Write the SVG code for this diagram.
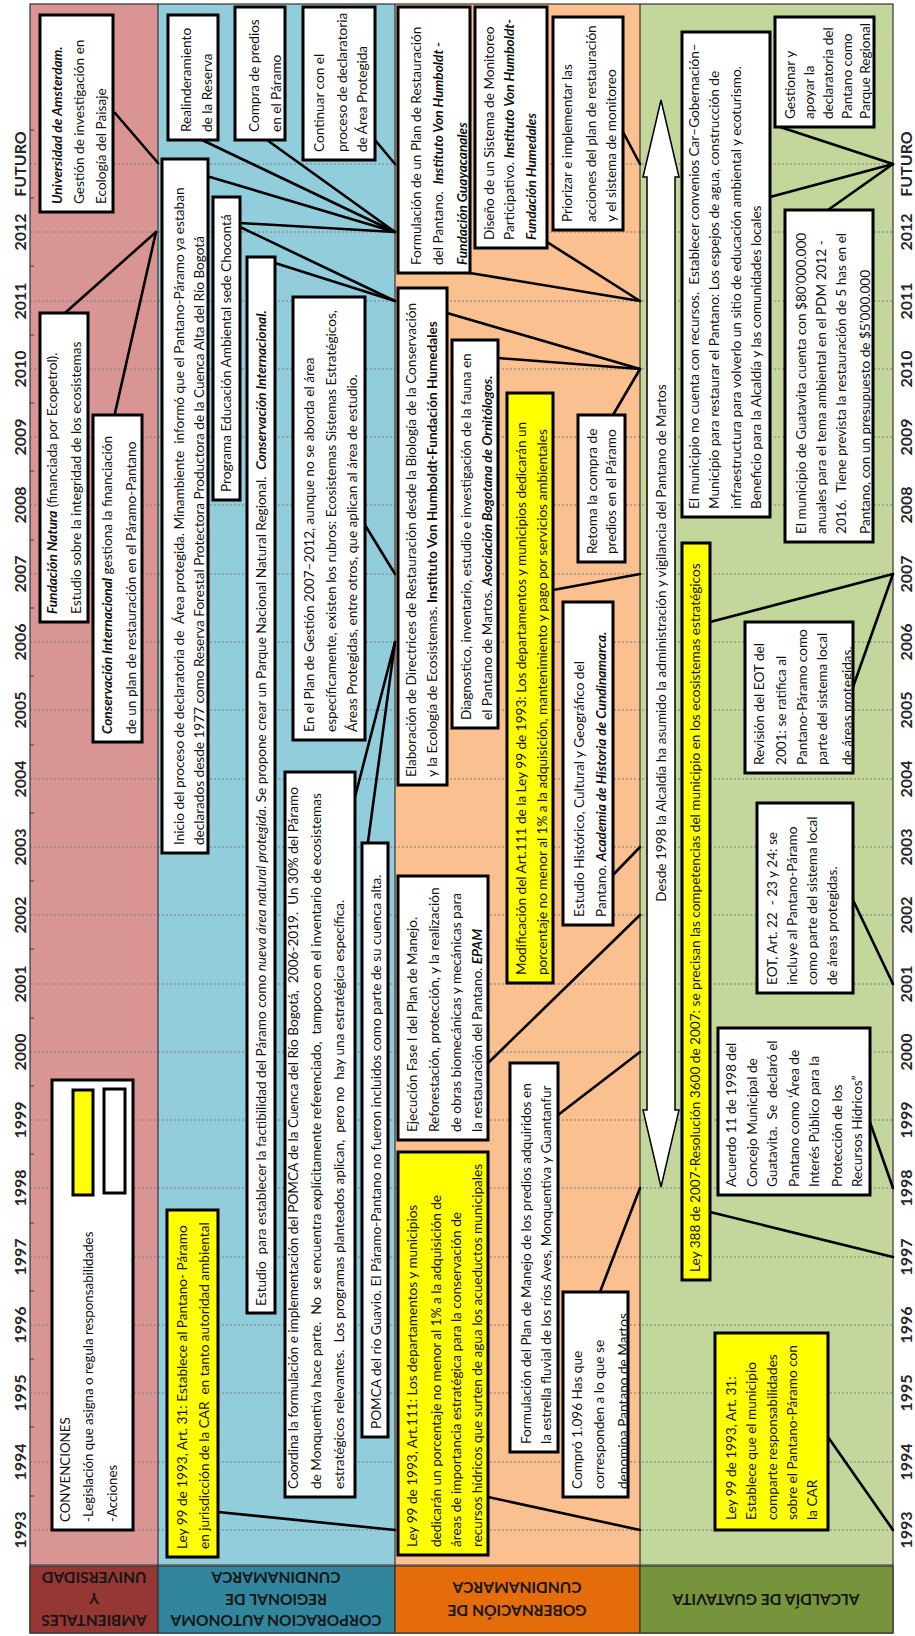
<svg xmlns="http://www.w3.org/2000/svg" width="915" height="1636" viewBox="0 0 915 1636">
<style>
.box{fill:#fff;stroke:#000;stroke-width:3}
.yel{fill:#ffff00;stroke:#000;stroke-width:3}
.t{font-family:Lato,"Liberation Sans",sans-serif;font-size:13.6px;fill:#111;white-space:pre}
.bi{font-weight:bold;font-style:italic}
.b{font-weight:bold}
.i{font-style:italic}
.yr{font-family:Lato,"Liberation Sans",sans-serif;font-weight:bold;font-size:16px;fill:#262626;text-anchor:middle}
.conn line{stroke:#000;stroke-width:2.6;stroke-linecap:round}
.grid line{stroke:#808080;stroke-width:1;stroke-dasharray:2 2}
.tick line{stroke:#404040;stroke-width:1}
.lbl{font-family:Lato,"Liberation Sans",sans-serif;font-weight:bold;font-size:15.5px;fill:#161616;text-anchor:middle;dominant-baseline:central}
.bd{stroke:#333;stroke-width:1.2;fill:none}
</style>
<defs>
<clipPath id="c15"><rect x="1364.5" y="399.5" width="263" height="69"/></clipPath>
<clipPath id="c25"><rect x="140.5" y="564.5" width="202" height="62"/></clipPath>
<clipPath id="c31"><rect x="1095.5" y="786.5" width="329" height="85"/></clipPath>
<clipPath id="c32"><rect x="864.5" y="746.5" width="148" height="105"/></clipPath>
</defs>
<rect width="915" height="1636" fill="#fff"/>
<g id="chart" transform="translate(0,1636) rotate(-90)">
<g id="bands">
<rect x="71" y="30" width="1561" height="128" fill="#d99594"/>
<rect x="71" y="158" width="1561" height="237" fill="#92cddc"/>
<rect x="71" y="395" width="1561" height="245" fill="#fac090"/>
<rect x="71" y="640" width="1561" height="253" fill="#c3d69b"/>
</g>
<g class="grid" id="grid">
<line x1="106" y1="30" x2="106" y2="893"/><line x1="174" y1="30" x2="174" y2="893"/><line x1="243" y1="30" x2="243" y2="893"/><line x1="311" y1="30" x2="311" y2="893"/><line x1="379" y1="30" x2="379" y2="893"/><line x1="448" y1="30" x2="448" y2="893"/><line x1="516" y1="30" x2="516" y2="893"/><line x1="584" y1="30" x2="584" y2="893"/><line x1="652" y1="30" x2="652" y2="893"/><line x1="721" y1="30" x2="721" y2="893"/><line x1="789" y1="30" x2="789" y2="893"/><line x1="857" y1="30" x2="857" y2="893"/><line x1="926" y1="30" x2="926" y2="893"/><line x1="994" y1="30" x2="994" y2="893"/><line x1="1062" y1="30" x2="1062" y2="893"/><line x1="1131" y1="30" x2="1131" y2="893"/><line x1="1199" y1="30" x2="1199" y2="893"/><line x1="1267" y1="30" x2="1267" y2="893"/><line x1="1335" y1="30" x2="1335" y2="893"/><line x1="1404" y1="30" x2="1404" y2="893"/><line x1="1472" y1="30" x2="1472" y2="893"/>
</g>
<g class="tick" id="ticks">
<line x1="140" y1="30" x2="140" y2="34"/><line x1="209" y1="30" x2="209" y2="34"/><line x1="277" y1="30" x2="277" y2="34"/><line x1="345" y1="30" x2="345" y2="34"/><line x1="413" y1="30" x2="413" y2="34"/><line x1="482" y1="30" x2="482" y2="34"/><line x1="550" y1="30" x2="550" y2="34"/><line x1="618" y1="30" x2="618" y2="34"/><line x1="687" y1="30" x2="687" y2="34"/><line x1="755" y1="30" x2="755" y2="34"/><line x1="823" y1="30" x2="823" y2="34"/><line x1="891" y1="30" x2="891" y2="34"/><line x1="960" y1="30" x2="960" y2="34"/><line x1="1028" y1="30" x2="1028" y2="34"/><line x1="1096" y1="30" x2="1096" y2="34"/><line x1="1165" y1="30" x2="1165" y2="34"/><line x1="1233" y1="30" x2="1233" y2="34"/><line x1="1301" y1="30" x2="1301" y2="34"/><line x1="1370" y1="30" x2="1370" y2="34"/><line x1="1438" y1="30" x2="1438" y2="34"/><line x1="1506" y1="30" x2="1506" y2="34"/>
</g>
<g id="frame">
<rect class="bd" x="3" y="30" width="1629" height="863"/>
<line class="bd" x1="3" y1="158" x2="1632" y2="158"/>
<line class="bd" x1="3" y1="395" x2="1632" y2="395"/>
<line class="bd" x1="3" y1="640" x2="1632" y2="640"/>
<line class="bd" x1="71" y1="30" x2="71" y2="893"/>
</g>
<g id="years">
<text class="yr" x="106" y="26">1993</text><text class="yr" x="174" y="26">1994</text><text class="yr" x="243" y="26">1995</text><text class="yr" x="311" y="26">1996</text><text class="yr" x="379" y="26">1997</text><text class="yr" x="448" y="26">1998</text><text class="yr" x="516" y="26">1999</text><text class="yr" x="584" y="26">2000</text><text class="yr" x="652" y="26">2001</text><text class="yr" x="721" y="26">2002</text><text class="yr" x="789" y="26">2003</text><text class="yr" x="857" y="26">2004</text><text class="yr" x="926" y="26">2005</text><text class="yr" x="994" y="26">2006</text><text class="yr" x="1062" y="26">2007</text><text class="yr" x="1131" y="26">2008</text><text class="yr" x="1199" y="26">2009</text><text class="yr" x="1267" y="26">2010</text><text class="yr" x="1335" y="26">2011</text><text class="yr" x="1404" y="26">2012</text><text class="yr" x="1472" y="26">FUTURO</text>
<text class="yr" x="106" y="912">1993</text><text class="yr" x="174" y="912">1994</text><text class="yr" x="243" y="912">1995</text><text class="yr" x="311" y="912">1996</text><text class="yr" x="379" y="912">1997</text><text class="yr" x="448" y="912">1998</text><text class="yr" x="516" y="912">1999</text><text class="yr" x="584" y="912">2000</text><text class="yr" x="652" y="912">2001</text><text class="yr" x="721" y="912">2002</text><text class="yr" x="789" y="912">2003</text><text class="yr" x="857" y="912">2004</text><text class="yr" x="926" y="912">2005</text><text class="yr" x="994" y="912">2006</text><text class="yr" x="1062" y="912">2007</text><text class="yr" x="1131" y="912">2008</text><text class="yr" x="1199" y="912">2009</text><text class="yr" x="1267" y="912">2010</text><text class="yr" x="1335" y="912">2011</text><text class="yr" x="1404" y="912">2012</text><text class="yr" x="1472" y="912">FUTURO</text>
</g>
<g class="conn" id="connectors">
<line x1="1523" y1="115" x2="1473" y2="158"/>
<line x1="1323" y1="65" x2="1404" y2="156"/>
<line x1="1223" y1="115" x2="1404" y2="156"/>
<line x1="1496" y1="202" x2="1404" y2="395"/>
<line x1="1496" y1="267" x2="1404" y2="395"/>
<line x1="1496" y1="375" x2="1472" y2="395"/>
<line x1="1459" y1="210" x2="1404" y2="395"/>
<line x1="1413" y1="240" x2="1404" y2="395"/>
<line x1="1409" y1="240" x2="1335" y2="395"/>
<line x1="1373" y1="275" x2="1335" y2="395"/>
<line x1="1111" y1="365" x2="1062" y2="395"/>
<line x1="839" y1="355" x2="994" y2="395"/>
<line x1="794" y1="368" x2="994" y2="395"/>
<line x1="124" y1="218" x2="106" y2="395"/>
<line x1="1363" y1="470" x2="1335" y2="640"/>
<line x1="1394" y1="547" x2="1335" y2="640"/>
<line x1="1504" y1="623" x2="1472" y2="640"/>
<line x1="1323" y1="447" x2="1267" y2="640"/>
<line x1="1278" y1="498" x2="1267" y2="640"/>
<line x1="1221" y1="613" x2="1267" y2="640"/>
<line x1="1046" y1="553" x2="1062" y2="640"/>
<line x1="761" y1="613" x2="789" y2="640"/>
<line x1="573" y1="488" x2="721" y2="640"/>
<line x1="521" y1="558" x2="584" y2="640"/>
<line x1="344" y1="600" x2="448" y2="640"/>
<line x1="139" y1="488" x2="106" y2="640"/>
<line x1="1014" y1="710" x2="1062" y2="893"/>
<line x1="424" y1="710" x2="379" y2="893"/>
<line x1="1439" y1="770" x2="1472" y2="893"/>
<line x1="1509" y1="780" x2="1472" y2="893"/>
<line x1="1426" y1="828" x2="1472" y2="893"/>
<line x1="949" y1="853" x2="1062" y2="893"/>
<line x1="736" y1="853" x2="652" y2="893"/>
<line x1="528" y1="865" x2="448" y2="893"/>
<line x1="199" y1="828" x2="106" y2="893"/>
</g>
<g id="n-arrow">
<polygon points="449,661 526,643 526,647 1459,647 1459,643 1536,661 1459,679 1459,675 526,675 526,679" fill="#fff" stroke="#000" stroke-width="1.5"/>
<text class="t" x="993" y="666" text-anchor="middle">Desde 1998 la Alcaldía ha asumido la administración y vigilancia del Pantano de Martos</text>
</g>
<g id="n-amsterdam"><rect class="box" x="1424" y="40" width="197" height="73"/>
<text class="t"><tspan x="1432" y="62" class="bi">Universidad de Amsterdam.</tspan><tspan x="1432" y="84">Gestión de investigación en</tspan><tspan x="1432" y="106">Ecología del Paisaje</tspan></text></g>
<g id="n-natura"><rect class="box" x="1014" y="40" width="309" height="48"/>
<text class="t"><tspan x="1022" y="57"><tspan class="bi">Fundación Natura</tspan> (financiada por Ecopetrol).</tspan><tspan x="1022" y="81">Estudio sobre la integridad de los ecosistemas</tspan></text></g>
<g id="n-conservacion"><rect class="box" x="894" y="93" width="327" height="49"/>
<text class="t"><tspan x="902" y="112"><tspan class="bi">Conservación Internacional</tspan> gestiona la financiación</tspan><tspan x="902" y="136">de un plan de restauración en el Páramo-Pantano</tspan></text></g>
<g id="n-legend"><rect class="box" x="106" y="52" width="450" height="81"/>
<rect x="441" y="73" width="105" height="20" fill="#ffff00" stroke="#000" stroke-width="3"/>
<rect x="443" y="104" width="104" height="21" fill="#fff" stroke="#000" stroke-width="3"/>
<text class="t" style="font-size:13.3px"><tspan x="114" y="70">CONVENCIONES</tspan><tspan x="114" y="93">-Legislación que asigna o regula responsabilidades</tspan><tspan x="114" y="117">-Acciones</tspan></text></g>
<g id="n-inicio"><rect class="box" x="783" y="162" width="694" height="46"/>
<text class="t"><tspan x="791" y="184">Inicio del proceso de declaratoria de  Área protegida. Minambiente  informó que el Pantano-Páramo ya estaban</tspan><tspan x="791" y="204">declarados desde 1977 como Reserva Forestal Protectora Productora de la Cuenca Alta del Río Bogotá</tspan></text></g>
<g id="n-realinderamiento"><rect class="box" x="1496" y="168" width="125" height="50"/>
<text class="t"><tspan x="1504" y="191">Realinderamiento</tspan><tspan x="1504" y="212">de la Reserva</tspan></text></g>
<g id="n-compra"><rect class="box" x="1496" y="235" width="133" height="50"/>
<text class="t"><tspan x="1504" y="259">Compra de predios</tspan><tspan x="1504" y="281">en el Páramo</tspan></text></g>
<g id="n-continuar"><rect class="box" x="1476" y="303" width="153" height="72"/>
<text class="t"><tspan x="1484" y="324">Continuar con el</tspan><tspan x="1484" y="347">proceso de declaratoria</tspan><tspan x="1484" y="367">de Área Protegida</tspan></text></g>
<g id="n-choconta"><rect class="box" x="1136" y="213" width="303" height="27"/>
<text class="t" x="1144" y="231">Programa Educación Ambiental sede Chocontá</text></g>
<g id="n-estudio"><rect class="box" x="323" y="247" width="1056" height="28"/>
<text class="t" x="330" y="266">Estudio  para establecer la factibilidad del Páramo como <tspan class="i">nueva área natural protegida</tspan>. Se propone crear un Parque Nacional Natural Regional.  <tspan class="bi">Conservación Internacional.</tspan></text></g>
<g id="n-plangestion"><rect class="box" x="896" y="293" width="443" height="72"/>
<text class="t"><tspan x="904" y="314">En el Plan de Gestión 2007–2012, aunque no se aborda el área</tspan><tspan x="904" y="336">específicamente, existen los rubros: Ecosistemas Sistemas Estratégicos,</tspan><tspan x="904" y="357">Áreas Protegidas, entre otros, que aplican al área de estudio.</tspan></text></g>
<g id="n-coordina"><rect class="box" x="139" y="285" width="725" height="70"/>
<text class="t"><tspan x="147" y="298">Coordina la formulación e implementación del POMCA de la Cuenca del Río Bogotá,  2006-2019.  Un 30% del Páramo</tspan><tspan x="147" y="321">de Monquentiva hace parte.  No  se encuentra explícitamente referenciado,  tampoco en el inventario de ecosistemas</tspan><tspan x="147" y="344">estratégicos relevantes.  Los programas planteados aplican,  pero no  hay una estratégica específica.</tspan></text></g>
<g id="n-pomca"><rect class="box" x="199" y="362" width="594" height="26"/>
<text class="t" x="207" y="381">POMCA del río Guavio. El Páramo-Pantano no fueron incluidos como parte de su cuenca alta.</text></g>
<g id="n-leycar"><rect class="yel" x="79" y="167" width="347" height="51"/>
<text class="t"><tspan x="87" y="187">Ley 99 de 1993, Art. 31: Establece al Pantano- Páramo</tspan><tspan x="87" y="209">en jurisdicción de la CAR  en tanto autoridad ambiental</tspan></text></g>
<g id="n-formrest"><rect class="box" x="1363" y="398" width="266" height="72"/>
<text class="t" clip-path="url(#c15)"><tspan x="1371" y="421">Formulación de un Plan de Restauración</tspan><tspan x="1371" y="443">del Pantano.  <tspan class="bi">Instituto Von Humboldt -</tspan></tspan><tspan x="1371" y="467" class="bi">Fundación Guayacanales</tspan></text></g>
<g id="n-elaboracion"><rect class="box" x="851" y="398" width="497" height="49"/>
<text class="t"><tspan x="859" y="416">Elaboración de Directrices de Restauración desde la Biología de la Conservación</tspan><tspan x="859" y="437">y la Ecología de Ecosistemas. <tspan class="b">Instituto Von Humboldt-Fundación Humedales</tspan></tspan></text></g>
<g id="n-diseno"><rect class="box" x="1388" y="475" width="241" height="72"/>
<text class="t"><tspan x="1396" y="494">Diseño de un Sistema de Monitoreo</tspan><tspan x="1396" y="514">Participativo. <tspan class="bi">Instituto Von Humboldt-</tspan></tspan><tspan x="1396" y="536" class="bi">Fundación Humedales</tspan></text></g>
<g id="n-priorizar"><rect class="box" x="1406" y="553" width="213" height="70"/>
<text class="t"><tspan x="1414" y="572">Priorizar e implementar las</tspan><tspan x="1414" y="596">acciones del plan de restauración</tspan><tspan x="1414" y="616">y el sistema de monitoreo</tspan></text></g>
<g id="n-diagnostico"><rect class="box" x="908" y="452" width="388" height="46"/>
<text class="t"><tspan x="916" y="471">Diagnostico, inventario, estudio e investigación de la fauna en</tspan><tspan x="916" y="492">el Pantano de Martos. <tspan class="bi">Asociación Bogotana de Ornitólogos.</tspan></tspan></text></g>
<g id="n-modificacion"><rect class="yel" x="653" y="507" width="590" height="46"/>
<text class="t"><tspan x="661" y="526">Modificación del Art.111 de la Ley 99 de 1993: Los departamentos y municipios dedicarán un</tspan><tspan x="661" y="547">porcentaje no menor al 1% a la adquisición, mantenimiento y pago por servicios ambientales</tspan></text></g>
<g id="n-retoma"><rect class="box" x="1074" y="578" width="147" height="47"/>
<text class="t"><tspan x="1082" y="597">Retoma la compra de</tspan><tspan x="1082" y="616">predios en el Páramo</tspan></text></g>
<g id="n-historico"><rect class="box" x="711" y="563" width="323" height="50"/>
<text class="t"><tspan x="719" y="584">Estudio Histórico, Cultural y Geográfico del</tspan><tspan x="719" y="606">Pantano. <tspan class="bi">Academia de Historia de Cundinamarca.</tspan></tspan></text></g>
<g id="n-ejecucion"><rect class="box" x="496" y="398" width="264" height="90"/>
<text class="t"><tspan x="504" y="417">Ejecución Fase I del Plan de Manejo.</tspan><tspan x="504" y="439">Reforestación, protección, y la realización</tspan><tspan x="504" y="461">de obras biomecánicas y mecánicas para</tspan><tspan x="504" y="482">la restauración del Pantano. <tspan class="bi">EPAM</tspan></tspan></text></g>
<g id="n-formmanejo"><rect class="box" x="184" y="510" width="389" height="48"/>
<text class="t"><tspan x="192" y="531">Formulación del Plan de Manejo de los predios adquiridos en</tspan><tspan x="192" y="551">la estrella fluvial de los ríos Aves, Monquentiva y Guantanfur</tspan></text></g>
<g id="n-compro"><rect class="box" x="139" y="563" width="205" height="65"/>
<text class="t" clip-path="url(#c25)"><tspan x="147" y="582">Compró 1.096 Has que</tspan><tspan x="147" y="604">corresponden a lo que se</tspan><tspan x="147" y="628">denomina Pantano de Martos</tspan></text></g>
<g id="n-ley111"><rect class="yel" x="81" y="398" width="403" height="90"/>
<text class="t"><tspan x="89" y="417">Ley 99 de 1993, Art.111: Los departamentos y municipios</tspan><tspan x="89" y="441">dedicarán un porcentaje no menor al 1% a la adquisición de</tspan><tspan x="89" y="461">áreas de importancia estratégica para la conservación de</tspan><tspan x="89" y="482">recursos hídricos que surten de agua los acueductos municipales</tspan></text></g>
<g id="n-ley388"><rect class="yel" x="356" y="682" width="737" height="28"/>
<text class="t" x="364" y="700">Ley 388 de 2007-Resolución 3600 de 2007: se precisan las competencias del municipio en los ecosistemas estratégicos</text></g>
<g id="n-municipio"><rect class="box" x="1119" y="682" width="485" height="88"/>
<text class="t"><tspan x="1127" y="699">El municipio no cuenta con recursos.  Establecer convenios Car–Gobernación–</tspan><tspan x="1127" y="719">Municipio para restaurar el Pantano: Los espejos de agua, construcción de</tspan><tspan x="1127" y="741">infraestructura para volverlo un sitio de educación ambiental y ecoturismo.</tspan><tspan x="1127" y="761">Beneficio para la Alcaldía y las comunidades locales</tspan></text></g>
<g id="n-gestionar"><rect class="box" x="1509" y="775" width="110" height="99"/>
<text class="t"><tspan x="1517" y="795">Gestionar y</tspan><tspan x="1517" y="814">apoyar la</tspan><tspan x="1517" y="833">declaratoria del</tspan><tspan x="1517" y="852">Pantano como</tspan><tspan x="1517" y="870">Parque Regional</tspan></text></g>
<g id="n-guatavita"><rect class="box" x="1094" y="785" width="332" height="88"/>
<text class="t" clip-path="url(#c31)"><tspan x="1102" y="806">El municipio de Guatavita cuenta con $80’000.000</tspan><tspan x="1102" y="826">anuales para el tema ambiental en el PDM 2012 -</tspan><tspan x="1102" y="846">2016.  Tiene prevista la restauración de 5 has en el</tspan><tspan x="1102" y="870">Pantano, con un presupuesto de $5’000.000</tspan></text></g>
<g id="n-revision"><rect class="box" x="863" y="745" width="151" height="108"/>
<text class="t" clip-path="url(#c32)"><tspan x="871" y="764">Revisión del EOT del</tspan><tspan x="871" y="786">2001: se ratifica al</tspan><tspan x="871" y="807">Pantano-Páramo como</tspan><tspan x="871" y="827">parte del sistema local</tspan><tspan x="871" y="852">de áreas protegidas.</tspan></text></g>
<g id="n-eotart"><rect class="box" x="643" y="757" width="190" height="96"/>
<text class="t"><tspan x="651" y="777">EOT, Art. 22  - 23 y 24: se</tspan><tspan x="651" y="797">incluye al Pantano-Páramo</tspan><tspan x="651" y="817">como parte del sistema local</tspan><tspan x="651" y="837">de áreas protegidas.</tspan></text></g>
<g id="n-acuerdo"><rect class="box" x="441" y="718" width="167" height="152"/>
<text class="t"><tspan x="449" y="736">Acuerdo 11 de 1998 del</tspan><tspan x="449" y="757">Concejo Municipal de</tspan><tspan x="449" y="777">Guatavita.  Se  declaró el</tspan><tspan x="449" y="799">Pantano como ‘Área de</tspan><tspan x="449" y="819">Interés Público para la</tspan><tspan x="449" y="842">Protección de los</tspan><tspan x="449" y="862">Recursos Hídricos”</tspan></text></g>
<g id="n-ley99mun"><rect class="yel" x="106" y="715" width="197" height="113"/>
<text class="t"><tspan x="116" y="736">Ley 99 de 1993, Art. 31:</tspan><tspan x="116" y="756">Establece que el municipio</tspan><tspan x="116" y="777">comparte responsabilidades</tspan><tspan x="116" y="797">sobre el Pantano-Páramo con</tspan><tspan x="116" y="817">la CAR</tspan></text></g>
</g>
<g id="row-labels">
<rect x="30" y="1566" width="128" height="67" fill="#953735" stroke="#333" stroke-width="1.2"/>
<rect x="158" y="1566" width="237" height="67" fill="#31859c" stroke="#333" stroke-width="1.2"/>
<rect x="395" y="1566" width="245" height="67" fill="#e46c0a" stroke="#333" stroke-width="1.2"/>
<rect x="640" y="1566" width="253" height="67" fill="#77933c" stroke="#333" stroke-width="1.2"/>
<text class="lbl" x="94" y="1578" transform="rotate(180 94 1578)">UNIVERSIDAD</text>
<text class="lbl" x="94" y="1599" transform="rotate(180 94 1599)">Y</text>
<text class="lbl" x="94" y="1621" transform="rotate(180 94 1621)">AMBIENTALES</text>
<text class="lbl" x="276" y="1578" transform="rotate(180 276 1578)">CUNDINAMARCA</text>
<text class="lbl" x="276" y="1600" transform="rotate(180 276 1600)">REGIONAL DE</text>
<text class="lbl" x="276" y="1621" transform="rotate(180 276 1621)">CORPORACION AUTONOMA</text>
<text class="lbl" x="517" y="1588" transform="rotate(180 517 1588)">CUNDINAMARCA</text>
<text class="lbl" x="517" y="1611" transform="rotate(180 517 1611)">GOBERNACIÓN DE</text>
<text class="lbl" x="766" y="1600" transform="rotate(180 766 1600)">ALCALDÍA DE GUATAVITA</text>
</g>
</svg>
